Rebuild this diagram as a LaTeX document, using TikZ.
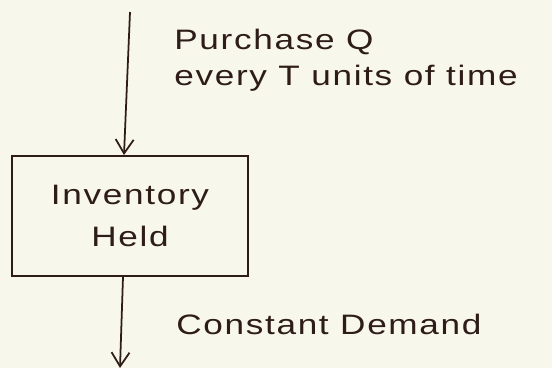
\documentclass[tikz,border=0pt]{standalone}
\usepackage{fontspec}
\setmainfont[FakeStretch=1.25,LetterSpace=6]{Liberation Sans}
\usepackage{xcolor}
\usepackage{tikz}
\usetikzlibrary{positioning}
\usetikzlibrary{arrows.meta}
\definecolor{paper}{HTML}{F7F7EC}
\definecolor{ink}{HTML}{2E1C18}

\begin{document}
\begin{tikzpicture}[x=0.02cm,y=-0.02cm]
    \tikzset{Stock/.style={rectangle, draw=ink, line width=1.1pt, text=ink, align=center, minimum width=4.72cm, minimum height=2.4cm, font=\fontsize{16}{24}\selectfont},
      Flow/.style={draw=ink, line width=1pt, -{Straight Barb[length=0.28cm,width=0.36cm,line width=1pt]}},
      Note/.style={text=ink, align=left, inner sep=0pt, font=\fontsize{16}{20.5}\selectfont}};
    \fill[paper] (0,0) rectangle (552,368);
    \useasboundingbox (0,0) rectangle (552,368);
    \node[Stock] (inv) at (130,216) {Inventory\\Held};
    \coordinate (src) at (130,12);
    \coordinate (sink) at (120,368);
    \node[Note, anchor=north west] (buy) at (174,29) {Purchase Q\\every T units of time};
    \node[Note, anchor=west] (dem) at (176,324) {Constant Demand};
    \draw[Flow] (src) -- (inv.north -| 124,0);
    \draw[Flow] (inv.south -| 123,0) -- (sink);
  \end{tikzpicture}
\end{document}
